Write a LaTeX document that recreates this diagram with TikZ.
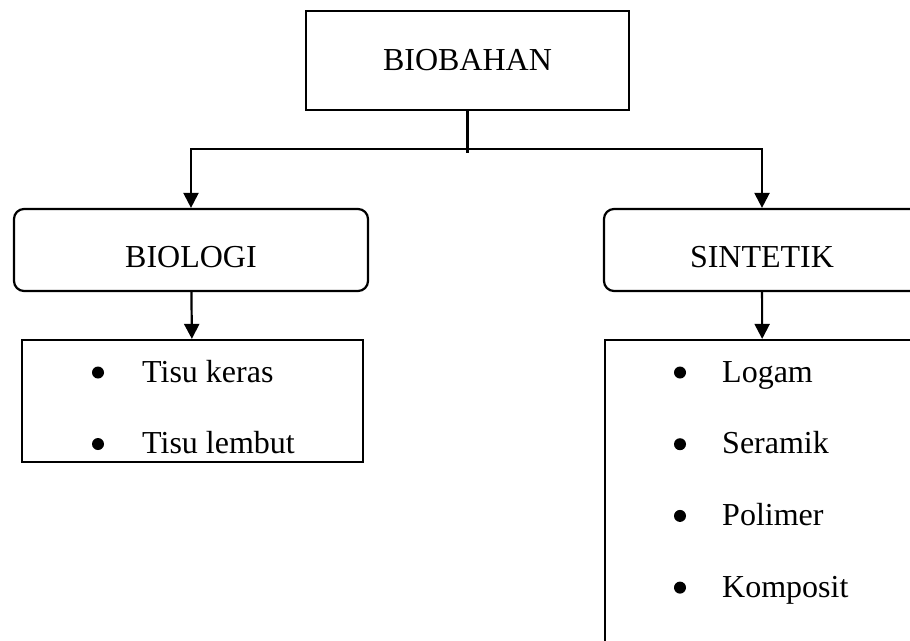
\documentclass[tikz,border=0pt]{standalone}
\usepackage{fontspec}
\setmainfont{Liberation Serif}
\usetikzlibrary{arrows.meta}
\tikzset{
  kotak/.style={draw, line width=2.2pt, inner sep=0pt},
  bulat/.style={kotak, rounded corners=10pt, text height=34pt, text depth=0pt},
  garis/.style={line width=2.2pt},
  panah/.style={garis, -{Triangle[width=15pt,length=15pt]}},
  butiran/.style={anchor=base west, inner sep=0pt},
  titik/.style={circle, fill, inner sep=0pt, minimum size=12pt},
}
\begin{document}
\begin{tikzpicture}[x=1pt, y=-1pt, font=\fontsize{32pt}{38pt}\selectfont]
    \useasboundingbox (0,0) rectangle (910,640);
    \clip (0,0) rectangle (910,640);
        % kotak utama
        \node[kotak, minimum width=323pt, minimum height=99pt] (biobahan) at (467.5,60.5) {BIOBAHAN};
        \node[bulat, minimum width=354pt, minimum height=82pt] (biologi) at (191,250) {BIOLOGI};
        \node[bulat, minimum width=316pt, minimum height=82pt] (sintetik) at (762,250) {SINTETIK};
        % kotak senarai
        \node[kotak, minimum width=341pt, minimum height=122pt] (biolist) at (192.5,401) {};
        \node[kotak, minimum width=315pt, minimum height=360pt] (sinlist) at (762.5,520) {};
        \foreach \t [count=\i] in {Tisu keras, Tisu lembut} {
            \node[titik] (biot\i) at (98, 372.5+71.5*\i-71.5) {};
            \node[butiran] (bio\i) at (142, 382+71.5*\i-71.5) {\t};
        }
        \foreach \t [count=\i] in {Logam, Seramik, Polimer, Komposit} {
            \node[titik] (sint\i) at (680, 372.5+71.7*\i-71.7) {};
            \node[butiran] (sin\i) at (722, 382+71.7*\i-71.7) {\t};
        }
        % penyambung
        \coordinate (batang) at (467.5,153);
        \coordinate (cabang) at (467.5,149);
        \draw[garis] (biobahan) -- (batang);
        \draw[panah] (cabang) -| (biologi);
        \draw[panah] (cabang) -| (sintetik);
        \draw[panah] (biologi) -- (biolist);
        \draw[panah] (sintetik) -- (sinlist);
    \end{tikzpicture}
\end{document}
